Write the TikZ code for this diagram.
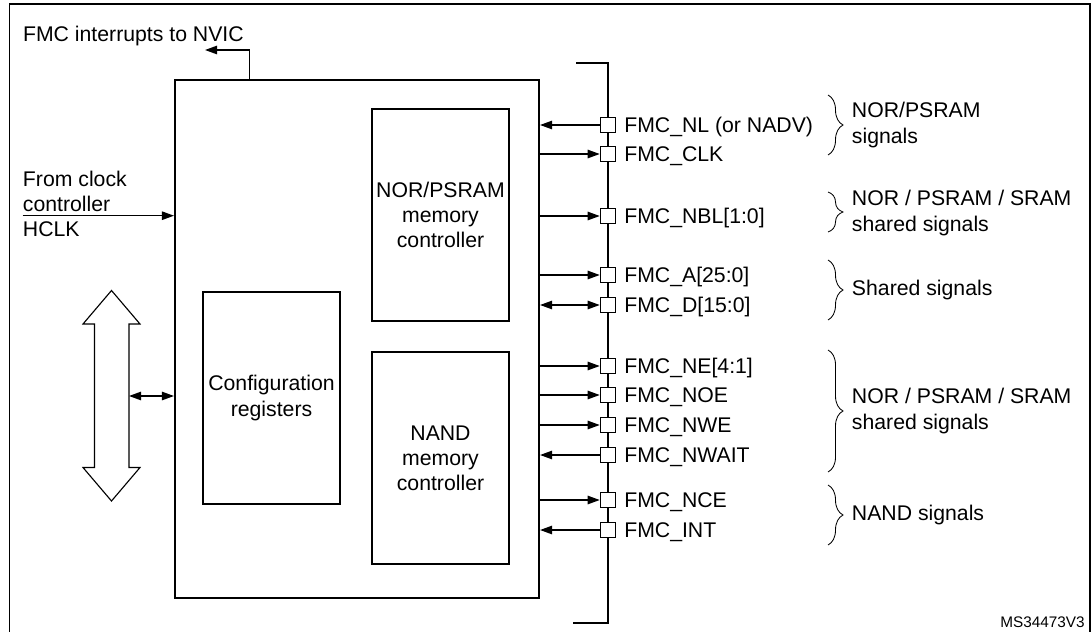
\documentclass[tikz,border=0pt]{standalone}
\usepackage{fontspec}
\setmainfont{Liberation Sans}
\usetikzlibrary{positioning,arrows.meta,decorations.pathreplacing}

\begin{document}
\begin{tikzpicture}[x=0.025cm, y=-0.025cm,
    every node/.style={font=\fontsize{15.1}{17.8}\selectfont, inner sep=0pt},
    >={Triangle[length=0.3cm,width=0.21cm]},
    blk/.style={draw, line width=1.4pt},
    ctlbox/.style={blk, minimum width=3.425cm, minimum height=5.3cm, align=center},
    sigsq/.style={draw, fill=white, line width=1.1pt, minimum size=0.375cm},
    wire/.style={line width=0.95pt},
    sigout/.style={wire, ->},
    sigin/.style={wire, <-},
    sigboth/.style={wire, <->},
    brc/.style={decorate, decoration={brace, amplitude=0.375cm}, line width=0.6pt},
    bracelbl/.style={anchor=west, align=left}]
      \useasboundingbox (0,0) rectangle (1091,631);
      \draw[line width=1.4pt] (9.5,4) rectangle (1090,660);
      % Define nodes
      \node[blk, minimum width=9.1cm, minimum height=12.95cm] (fmc) at (357,339) {};
      \node[ctlbox] (norctl) at (440.5,215) {NOR/PSRAM\\memory\\controller};
      \node[ctlbox, below=0.725cm of norctl] (nandctl) {NAND\\memory\\controller};
      \node[ctlbox, left=0.75cm of nandctl, yshift=1.5cm] (cfgreg) {Configuration\\registers};
      \node[anchor=base west] (irqlbl) at (22.8,41.7) {FMC interrupts to NVIC};
      \node[anchor=north west, align=left] (clklbl) at (22.7,170.7) {From clock\\controller\\HCLK};
      \node[anchor=base east, font=\fontsize{10.9}{13}\selectfont] (msid) at (1085,627.7) {MS34473V3};
      \coordinate (irqout) at (205,50);
      \coordinate (clkin) at (22.7,215.7);
      \coordinate (hbus) at (129,396);
      \coordinate (bustop) at (608,63);
      \coordinate (busbot) at (608,623);
      % System bus
      \draw[line width=0.8pt] (111.5,290.5) -- (140,324) -- (129,324) -- (129,467.5) -- (140,467.5)
        -- (111.5,501) -- (83,467.5) -- (94.5,467.5) -- (94.5,324) -- (83,324) -- cycle;
      % External bus
      \draw[line width=1.4pt] (576,63) -- (bustop) -- (busbot) -- (573,623);
      % Connect nodes
      \draw[sigout] ([xshift=1.8875cm]fmc.north west) |- (irqout);
      \draw[sigout] (clkin) -- (fmc.west |- clkin);
      \draw[sigboth] (hbus) -- (fmc.west |- hbus);
      \foreach \y/\t/\d [count=\i] in {125/{FMC\_NL (or NADV)}/sigin, 154/{FMC\_CLK}/sigout,
          216/{FMC\_NBL[1:0]}/sigout, 275/{FMC\_A[25:0]}/sigout, 305/{FMC\_D[15:0]}/sigboth,
          366/{FMC\_NE[4:1]}/sigout, 395/{FMC\_NOE}/sigout, 425/{FMC\_NWE}/sigout,
          455/{FMC\_NWAIT}/sigin, 500/{FMC\_NCE}/sigout, 530/{FMC\_INT}/sigin}{
        \node[sigsq] (s\i) at (608,\y) {};
        \node[anchor=base west] (l\i) at (624,\y+7) {\t};
        \draw[\d] (fmc.east |- s\i) -- (s\i);
      }
      % Signal groups
      \draw[brc] (828,95) -- (828,155);
      \node[bracelbl] (g1) at (851.7,125) {NOR/PSRAM\\signals};
      \draw[brc] (828,192) -- (828,232);
      \node[bracelbl] (g2) at (851.7,213) {NOR / PSRAM / SRAM\\shared signals};
      \draw[brc] (828,260) -- (828,320);
      \node[bracelbl] (g3) at (851.7,290) {Shared signals};
      \draw[brc] (828,350) -- (828,472);
      \node[bracelbl] (g4) at (851.7,411) {NOR / PSRAM / SRAM\\shared signals};
      \draw[brc] (828,485) -- (828,545);
      \node[bracelbl] (g5) at (851.7,515) {NAND signals};
\end{tikzpicture}
\end{document}
